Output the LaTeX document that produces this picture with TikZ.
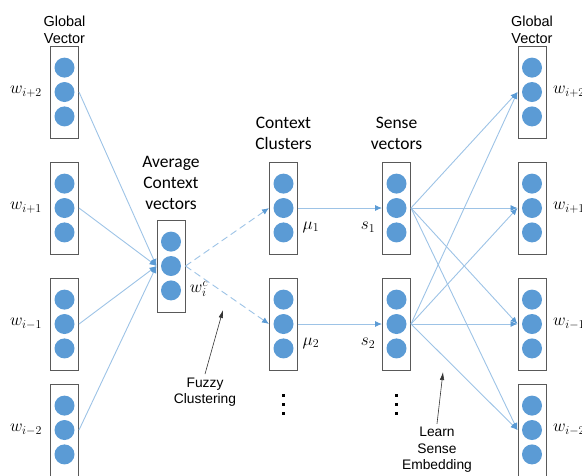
\documentclass[tikz,border=0pt]{standalone}
\usepackage{fontspec}
\setmainfont{Liberation Sans}
\newfontfamily\calibri{Carlito}
\usetikzlibrary{arrows.meta,positioning}
\definecolor{unitBlue}{HTML}{5B9BD5}
\definecolor{linkBlue}{HTML}{9DC3E6}
\definecolor{boxGray}{HTML}{595959}

\tikzset{
  vecbox/.style={draw=boxGray,line width=1pt,minimum width=28pt,minimum height=92pt,inner sep=0pt},
  unit/.style={circle,fill=unitBlue,minimum size=20pt,inner sep=0pt},
  link/.style={draw=linkBlue,line width=0.9pt,-{Latex[length=7pt,width=6pt,color=unitBlue]}},
  note/.style={draw=black!80,line width=0.6pt,-{Latex[length=8pt,width=4.5pt]}},
  gtext/.style={align=center,font=\fontsize{14.5}{17}\selectfont},
  ctext/.style={align=center,font=\calibri\fontsize{17.5}{21}\selectfont},
  ntext/.style={align=center,font=\fontsize{13.8}{16.5}\selectfont},
  mlabel/.style={font=\fontsize{18}{21}\selectfont,inner sep=1pt}
}

\begin{document}
\begin{tikzpicture}[x=1pt,y=-1pt]
  \useasboundingbox (0,0) rectangle (582,475);

  % vector boxes
  \foreach \n/\y in {1/92,2/208,3/324,4/430}{
    \node[vecbox] (g\n) at (64.5,\y) {};
    \node[vecbox] (o\n) at (532,\y) {};
  }
  \node[vecbox] (avg) at (171,266) {};
  \node[vecbox] (mu1) at (283.5,208) {};
  \node[vecbox] (mu2) at (283.5,324) {};
  \node[vecbox] (s1) at (396.5,208) {};
  \node[vecbox] (s2) at (396.5,324) {};

  % three units in every box
  \foreach \c in {g1,g2,g3,g4,o1,o2,o3,o4,avg,mu1,mu2,s1,s2}{
    \node[unit] (\c m) at (\c) {};
    \node[unit,above=4pt of \c m] (\c t) {};
    \node[unit,below=4pt of \c m] (\c b) {};
  }

  % titles
  \node[gtext] (globalL) at (64.5,29.5) {Global\\Vector};
  \node[gtext] (globalR) at (532,29.5) {Global\\Vector};
  \node[ctext] (avgTitle) at (171,182.5) {Average\\Context\\vectors};
  \node[ctext] (ctxTitle) at (283.5,133.5) {Context\\Clusters};
  \node[ctext] (senseTitle) at (396.5,133.5) {Sense\\vectors};

  % word labels
  \node[mlabel] (lw1) at (26,92) {$w_{i+2}$};
  \node[mlabel] (lw2) at (26,208) {$w_{i+1}$};
  \node[mlabel] (lw3) at (26,324) {$w_{i-1}$};
  \node[mlabel] (lw4) at (26,430) {$w_{i-2}$};
  \node[mlabel,anchor=west] (rw1) at (552,92) {$w_{i+2}$};
  \node[mlabel,anchor=west] (rw2) at (552,208) {$w_{i+1}$};
  \node[mlabel,anchor=west] (rw3) at (552,324) {$w_{i-1}$};
  \node[mlabel,anchor=west] (rw4) at (552,430) {$w_{i-2}$};
  \node[mlabel] (wc) at (199,289) {$w_i^c$};
  \node[mlabel] (mu1lab) at (311,227) {$\mu_1$};
  \node[mlabel] (mu2lab) at (311,343) {$\mu_2$};
  \node[mlabel] (s1lab) at (368,227) {$s_1$};
  \node[mlabel] (s2lab) at (368,343) {$s_2$};

  % connections
  \foreach \n in {1,...,4}
    \draw[link] (g\n.east) -- (avg.west);
  \draw[link,dash pattern=on 7pt off 4pt] (avg.east) -- (mu1.west);
  \draw[link,dash pattern=on 7pt off 4pt] (avg.east) -- (mu2.west);
  \draw[link] (mu1.east) -- (s1.west);
  \draw[link] (mu2.east) -- (s2.west);
  \foreach \s in {s1,s2}
    \foreach \n in {1,...,4}
      \draw[link] (\s.east) -- (o\n.west);

  % more vectors below
  \foreach \x in {283.5,396.5}
    \foreach \y in {395,404,413}
      \fill (\x-1.5,\y-1.5) rectangle (\x+1.5,\y+1.5);

  % notes
  \node[ntext] (fuzzy) at (205,392) {Fuzzy\\Clustering};
  \coordinate (fuzzyTip) at (223,310);
  \draw[note] (fuzzy.north) -- (fuzzyTip);
  \node[ntext] (learn) at (437,450) {Learn\\Sense\\Embedding};
  \coordinate (learnTip) at (443,372);
  \draw[note] (learn.north) -- (learnTip);
\end{tikzpicture}
\end{document}
